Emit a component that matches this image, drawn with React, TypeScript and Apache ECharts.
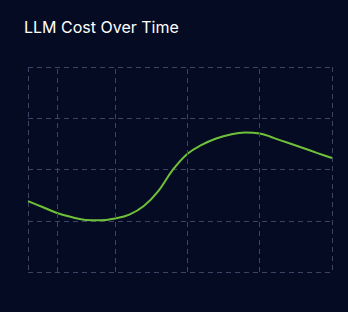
import React, { useEffect, useRef } from "react";
import * as echarts from "echarts";

const titleText = "LLM Cost Over Time";
const timePoints = [0, 2, 4, 6, 8, 10, 12, 14, 16, 18, 20, 22, 24, 26, 28, 30, 32, 34, 36, 38, 40, 42];
const costValues = [
  34.6, 31.7, 28.8, 26.8, 25.4, 25.2, 26.1, 28.0, 32.2, 39.5, 49.8, 57.6,
  62.0, 65.1, 67.1, 68.0, 67.6, 65.3, 62.9, 60.5, 58.0, 55.6,
];
const verticalGridAt = [4, 12, 22, 32];

export default function App() {
  const ref = useRef<HTMLDivElement>(null);
  useEffect(() => {
    if (!ref.current) return;
    const chart = echarts.init(ref.current, null, { renderer: "svg" });
    const gridLine = { color: "#3b4563", width: 1, type: [5, 4] as number[] };
    chart.setOption({
      animation: false,
      backgroundColor: "#050b23",
      title: {
        text: titleText,
        left: 24,
        top: 19,
        padding: 0,
        textStyle: { color: "#ffffff", fontSize: 16, fontWeight: "normal", fontFamily: "Inter" },
      },
      grid: { left: 28, right: 16, top: 67, bottom: 40 },
      xAxis: {
        type: "value",
        min: 0,
        max: 42,
        interval: 42,
        axisLine: { show: false },
        axisTick: { show: false },
        axisLabel: { show: false },
        splitLine: { show: true, lineStyle: gridLine },
      },
      yAxis: {
        type: "value",
        min: 0,
        max: 100,
        interval: 25,
        axisLine: { show: false },
        axisTick: { show: false },
        axisLabel: { show: false },
        splitLine: { show: true, lineStyle: gridLine },
      },
      series: [
        {
          type: "line",
          z: 1,
          data: timePoints.map((t, i) => [t, costValues[i]]),
          showSymbol: false,
          lineStyle: { opacity: 0 },
          silent: true,
          markLine: {
            silent: true,
            symbol: "none",
            label: { show: false },
            lineStyle: gridLine,
            data: verticalGridAt.map((v) => ({ xAxis: v })),
          },
        },
        {
          type: "line",
          z: 3,
          data: timePoints.map((t, i) => [t, costValues[i]]),
          smooth: 0.4,
          showSymbol: false,
          lineStyle: { color: "#6fc13a", width: 2 },
        },
      ],
    });
    return () => chart.dispose();
  }, []);
  return (
    <div
      ref={ref}
      style={{ position: "fixed", left: 0, top: 0, width: 348, height: 312 }}
    />
  );
}
